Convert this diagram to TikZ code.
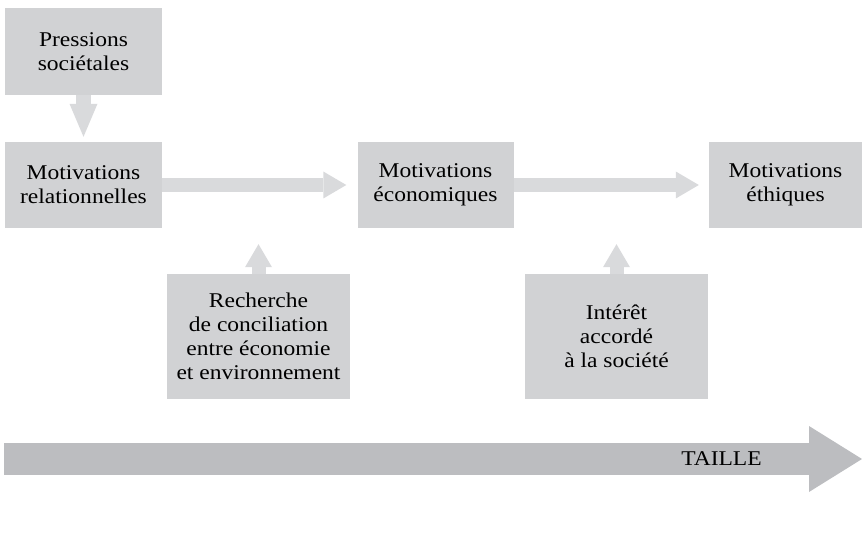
\documentclass[tikz,border=0pt]{standalone}
\usepackage{fontspec}
\setmainfont{Liberation Serif}[FakeStretch=1.12]
\usepackage{xcolor}
\usepackage{tikz}
\usetikzlibrary{arrows.meta}
\definecolor{boxgray}{RGB}{209,210,212}
\definecolor{arrowgray}{RGB}{217,218,220}
\definecolor{sizegray}{RGB}{188,189,192}

\begin{document}
\begin{tikzpicture}[x=1pt, y=-1pt,
  greybox/.style={rectangle, fill=boxgray, inner sep=0pt, align=center, font=\fontsize{21}{24}\selectfont},
  flowarrow/.style={draw=arrowgray, line width=14pt, -{Triangle[width=27pt, length=23pt, line width=0pt]}}]
\useasboundingbox (0,0) rectangle (862,553);

\node[greybox, minimum width=157pt, minimum height=87pt] at (83.5,51.5) (press) {Pressions\\sociétales};
\node[greybox, minimum width=157pt, minimum height=86pt] at (83.5,185) (rel) {Motivations\\relationnelles};
\node[greybox, minimum width=156pt, minimum height=86pt] at (435.5,185) (eco) {Motivations\\économiques};
\node[greybox, minimum width=153pt, minimum height=86pt] at (785.5,185) (eth) {Motivations\\éthiques};
\node[greybox, minimum width=183pt, minimum height=125pt] at (258.5,336.5) (rech) {Recherche\\de conciliation\\entre économie\\et environnement};
\node[greybox, minimum width=183pt, minimum height=125pt] at (616.5,336.5) (inter) {Intérêt\\accordé\\à la société};

\draw[flowarrow, line width=15pt, -{Triangle[width=28pt, length=33pt, line width=0pt]}, shorten >=5pt] (press.south) -- (rel.north);
\draw[flowarrow, shorten >=11pt] (rel.east) -- (eco.west);
\draw[flowarrow, shorten >=10pt] (eco.east) -- (eth.west);
\draw[flowarrow, shorten >=16pt] (rech.north) -- (rech.north |- rel.south);
\draw[flowarrow, shorten >=16pt] (inter.north) -- (inter.north |- eco.south);

\coordinate (sizestart) at (4,459);
\coordinate (sizeend) at (862,459);
\draw[draw=sizegray, line width=32pt, -{Triangle[width=66pt, length=53pt, line width=0pt]}] (sizestart) -- (sizeend);
\node[font=\fontsize{21}{24}\selectfont] at (721.5,459) (taille) {TAILLE};

\end{tikzpicture}
\end{document}
